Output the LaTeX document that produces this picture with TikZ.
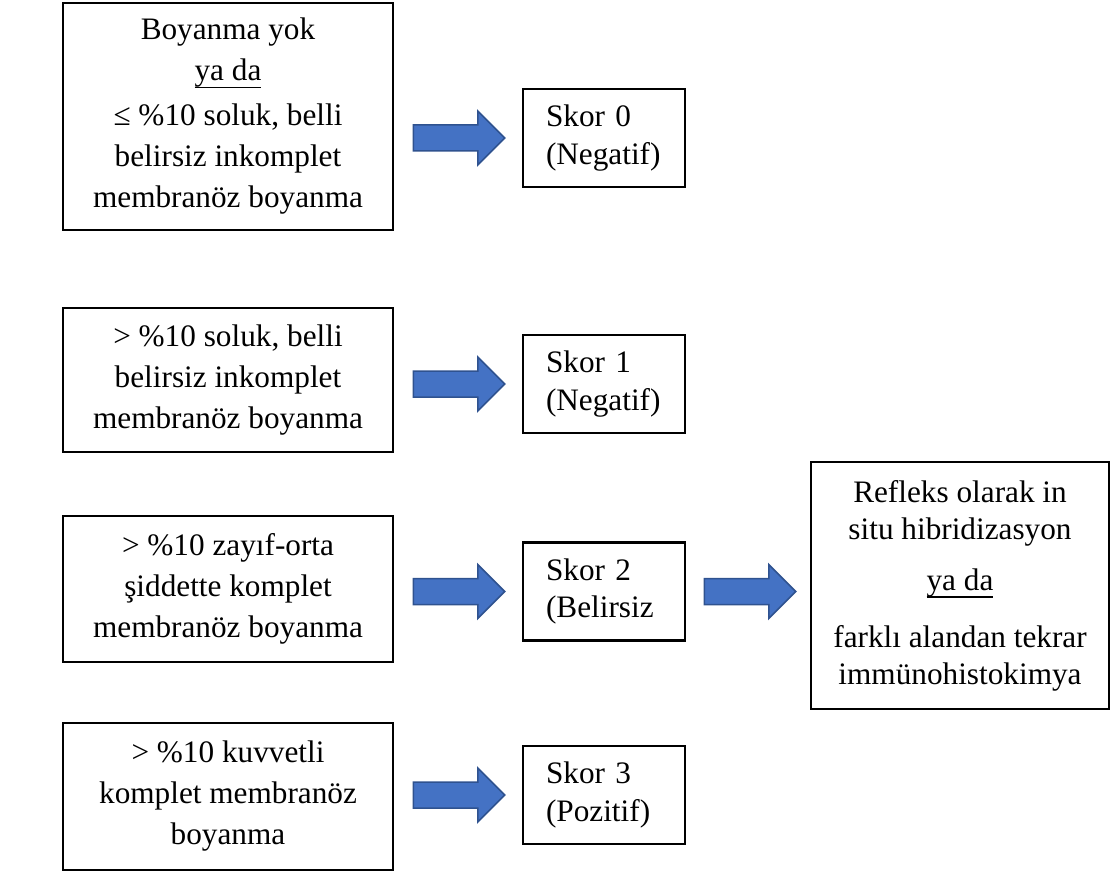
\documentclass[tikz,border=0pt]{standalone}
\usepackage{fontspec}
\setmainfont{Liberation Serif}
\usetikzlibrary{calc}
\definecolor{okmavi}{HTML}{4472C4}
\definecolor{okkenar}{HTML}{2F528F}
% Word tarzı alt çizgi (taban çizgisine yakın)
\newcommand{\altcizgi}[1]{\setbox0\hbox{#1}\rlap{\rule[-3pt]{\wd0}{0.6pt}}\box0}

\tikzset{
  kriter/.style={draw, line width=1pt, minimum width=132pt, align=center, inner sep=0pt,
    font=\fontsize{12.5pt}{16.4pt}\selectfont},
  skor/.style={draw, line width=1pt, minimum height=39.2pt, text width=46.4pt,
    inner xsep=9.2pt, inner ysep=0pt, align=left, font=\fontsize{12.5pt}{15pt}\selectfont},
  sonuc/.style={draw, line width=1pt, minimum width=119.2pt, minimum height=98.8pt,
    align=center, inner sep=0pt, font=\fontsize{12.5pt}{14.8pt}\selectfont},
  blokok/.style={fill=okmavi, draw=okkenar, line width=0.6pt,
    to path={($(\tikztostart)+(0,-13)$) -- ($(\tikztotarget)+(-27,-13)$)
      -- ($(\tikztotarget)+(-27,-27)$) -- (\tikztotarget) -- ($(\tikztotarget)+(-27,27)$)
      -- ($(\tikztotarget)+(-27,13)$) -- ($(\tikztostart)+(0,13)$) -- cycle}}
}

\begin{document}
\begin{tikzpicture}[x=0.4pt, y=-0.4pt]
\useasboundingbox (0,0) rectangle (1111,872);

% --- Boyanma kriterleri (sol sütun) ---
\node[kriter, minimum height=90.8pt] (a1) at (228,116.5)
  {Boyanma yok\\\altcizgi{ya da}\\[1.6pt]≤ \%10 soluk, belli\\belirsiz inkomplet\\membranöz boyanma};
\node[kriter, minimum height=57.6pt] (a2) at (228,380)
  {> \%10 soluk, belli\\belirsiz inkomplet\\membranöz boyanma};
\node[kriter, minimum height=58.4pt] (a3) at (228,589)
  {> \%10 zayıf-orta\\şiddette komplet\\membranöz boyanma};
\node[kriter, minimum height=58.8pt] (a4) at (228,796.5)
  {> \%10 kuvvetli\\komplet membranöz\\boyanma};

% --- Skorlar (orta sütun) ---
\node[skor] (b1) at (604,138) {Skor 0\\(Negatif)};
\node[skor] (b2) at (604,384) {Skor 1\\(Negatif)};
\node[skor] (b3) at (604,591.5) {Skor 2\\(Belirsiz};
\node[skor] (b4) at (604,795) {Skor 3\\(Pozitif)};

% --- Skor 2 sonrası ---
\node[sonuc] (c) at (960,585.5)
  {Refleks olarak in\\situ hibridizasyon\\[5.6pt]\altcizgi{ya da}\\[8pt]farklı alandan tekrar\\immünohistokimya};

% --- Oklar ---
\draw[blokok] ($(a1.east |- b1.west)+(19,0)$) to ($(b1.west)+(-17,0)$);
\draw[blokok] ($(a2.east |- b2.west)+(19,0)$) to ($(b2.west)+(-17,0)$);
\draw[blokok] ($(a3.east |- b3.west)+(19,0)$) to ($(b3.west)+(-17,0)$);
\draw[blokok] ($(a4.east |- b4.west)+(19,0)$) to ($(b4.west)+(-17,0)$);
\draw[blokok] ($(b3.east)+(18,0)$) to ($(c.west |- b3.east)+(-14,0)$);

\end{tikzpicture}
\end{document}
